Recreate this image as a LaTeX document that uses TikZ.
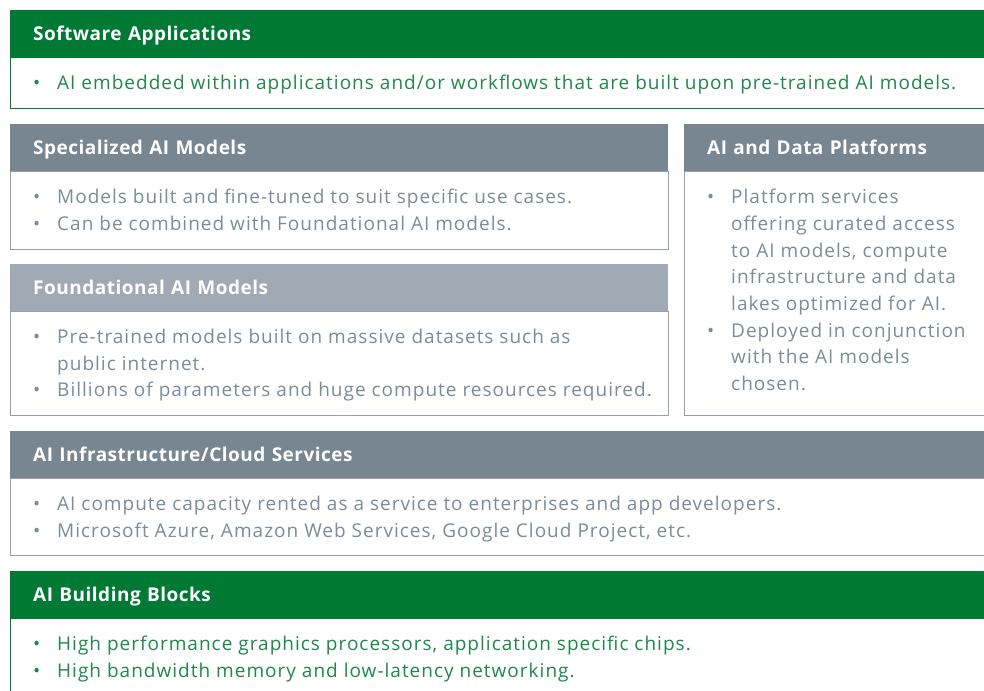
\documentclass[tikz,border=0pt]{standalone}
\usepackage{fontspec}
\setmainfont{Open Sans}[LetterSpace=5.3]
\newfontfamily\headfont{Open Sans}[LetterSpace=2.6]
\usetikzlibrary{positioning}

\definecolor{hdgreen}{RGB}{0,121,52}
\definecolor{txgreen}{RGB}{30,136,74}
\definecolor{hdslate}{RGB}{120,134,146}
\definecolor{hdmist}{RGB}{160,170,180}
\definecolor{txslate}{RGB}{124,139,153}
\definecolor{frslate}{RGB}{150,160,170}

% bullet and hanging indent for the item lists
\newcommand{\itm}{\makebox[24pt][l]{\textbullet}}
\newcommand{\cnt}{\hspace*{24pt}}

\begin{document}
\begin{tikzpicture}[
  x=1pt, y=-1pt,
  H/.style={fill=#1, text=white, anchor=north west, inner xsep=23pt, inner ysep=0pt,
            minimum height=46.5pt, align=left, text height=14pt, text depth=0pt,
            font=\fontsize{19}{23}\selectfont\headfont\bfseries},
  F/.style={draw=#1, line width=1.2pt, anchor=north west, inner sep=0pt},
  T/.style={text=#1, anchor=north west, inner sep=0pt, align=left,
            font=\fontsize{19}{26.7}\selectfont},
]
\useasboundingbox (0,0) rectangle (984,690);

% top layer: applications
\node[H=hdgreen, text width=934pt] (swhd) at (10,10) {Software Applications};
\node[F=hdgreen, minimum width=980pt, minimum height=51pt] (swbox) at (swhd.south west) {};
\node[T=txgreen] (swtxt) at ([shift={(23,18)}]swbox.north west)
  {\itm AI embedded within applications and/or workflows that are built upon pre-trained AI models.};

% specialized models
\node[H=hdslate, text width=612pt] (sphd) at (10,124) {Specialized AI Models};
\node[F=frslate, minimum width=658pt, minimum height=78pt] (spbox) at (sphd.south west) {};
\node[T=txslate] (sptxt) at ([shift={(23,18)}]spbox.north west)
  {\itm Models built and fine-tuned to suit specific use cases.\\
   \itm Can be combined with Foundational AI models.};

% foundational models
\node[H=hdmist, text width=612pt] (fdhd) at (10,264) {Foundational AI Models};
\node[F=frslate, minimum width=658pt, minimum height=104pt] (fdbox) at (fdhd.south west) {};
\node[T=txslate] (fdtxt) at ([shift={(23,18)}]fdbox.north west)
  {\itm Pre-trained models built on massive datasets such as\\
   \cnt public internet.\\
   \itm Billions of parameters and huge compute resources required.};

% platforms column on the right
\node[H=hdslate, text width=260pt] (plhd) at (684,124) {AI and Data Platforms};
\node[F=frslate, minimum width=306pt, minimum height=244pt] (plbox) at (plhd.south west) {};
\node[T=txslate] (pltxt) at ([shift={(23,18)}]plbox.north west)
  {\itm Platform services\\
   \cnt offering curated access\\
   \cnt to AI models, compute\\
   \cnt infrastructure and data\\
   \cnt lakes optimized for AI.\\
   \itm Deployed in conjunction\\
   \cnt with the AI models\\
   \cnt chosen.};

% infrastructure / cloud
\node[H=hdslate, text width=934pt] (cldhd) at (10,431) {AI Infrastructure/Cloud Services};
\node[F=frslate, minimum width=980pt, minimum height=77pt] (cldbox) at (cldhd.south west) {};
\node[T=txslate] (cldtxt) at ([shift={(23,18)}]cldbox.north west)
  {\itm AI compute capacity rented as a service to enterprises and app developers.\\
   \itm Microsoft Azure, Amazon Web Services, Google Cloud Project, etc.};

% bottom layer: hardware
\node[H=hdgreen, text width=934pt] (bbhd) at (10,571) {AI Building Blocks};
\node[F=hdgreen, minimum width=980pt, minimum height=90pt] (bbbox) at (bbhd.south west) {};
\node[T=txgreen] (bbtxt) at ([shift={(23,18)}]bbbox.north west)
  {\itm High performance graphics processors, application specific chips.\\
   \itm High bandwidth memory and low-latency networking.};
\end{tikzpicture}
\end{document}
